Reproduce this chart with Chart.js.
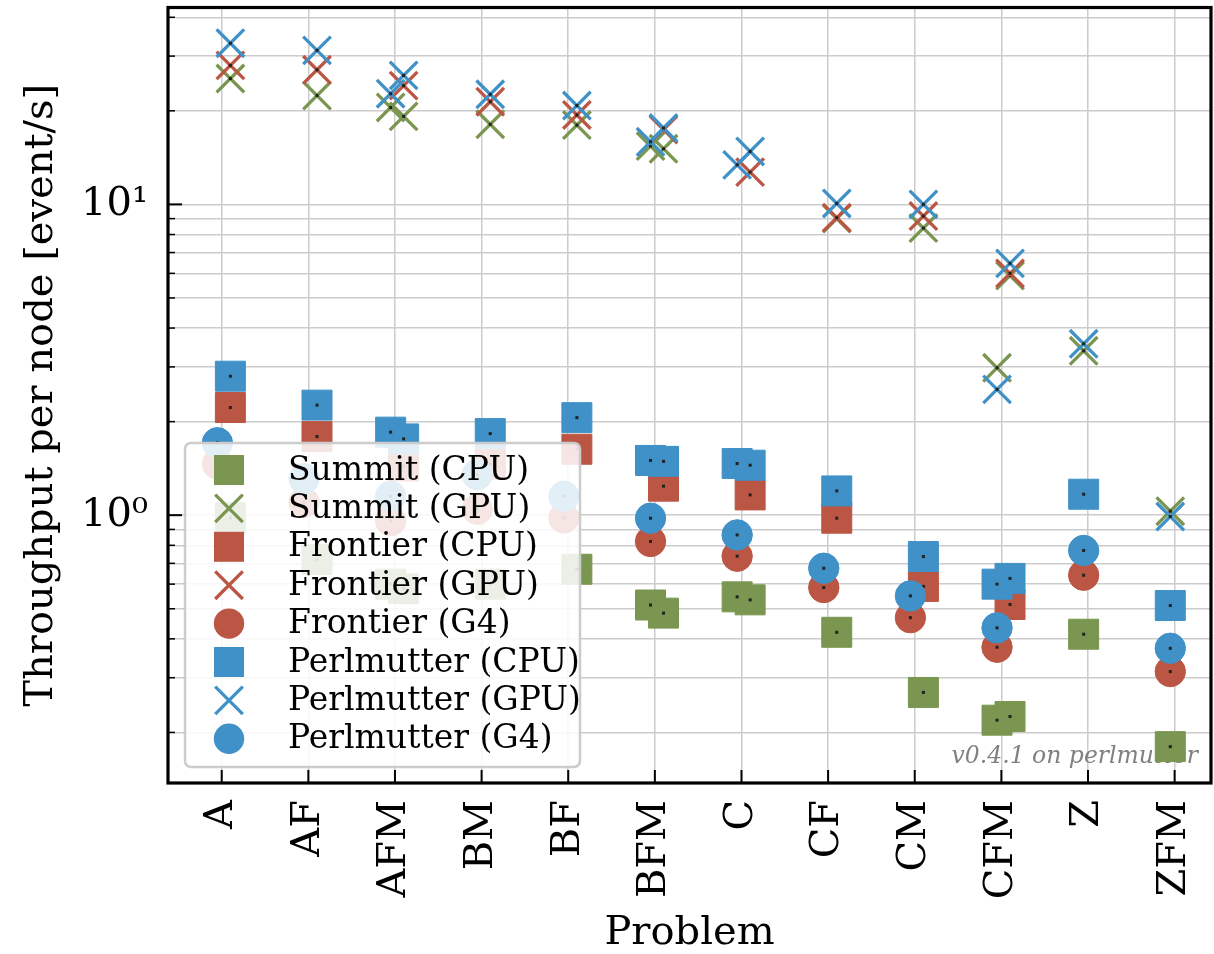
<!DOCTYPE html>
<html><head><meta charset="utf-8">
<script src="https://cdn.jsdelivr.net/npm/chart.js@4.4.0/dist/chart.umd.min.js"></script>
<style>html,body{margin:0;padding:0;background:#fff;}</style>
</head><body>
<canvas id="c" width="1214" height="954" style="width:1214px;height:954px;display:block"></canvas>
<script>
// ---- data ----
const problems = ['A','AF','AFM','BM','BF','BFM','C','CF','CM','CFM','Z','ZFM'];
// each problem can have two runs: left position and right position
const leftOffset = -0.05, rightOffset = 0.1;

const summitCpuL      = [null,null,0.60,null,null,0.514,0.546,null,null,0.219,0.414,0.18];
const summitCpuR      = [0.98,0.72,0.58,0.60,0.67,0.484,0.534,0.42,0.269,0.225,null,null];
const summitGpuL      = [null,null,20.5,null,null,15.4,null,null,null,2.98,3.38,1.03];
const summitGpuR      = [25.4,22.4,19.2,18.1,18.0,15.1,null,9.0,8.39,5.9,null,null];
const frontierCpuR    = [2.22,1.79,1.44,1.46,1.63,1.24,1.162,0.978,0.59,0.516,null,null];
const frontierGpuR    = [28.0,27.1,24.1,21.4,19.4,17.4,12.7,9.06,9.17,6.0,null,null];
const frontierG4L     = [1.46,1.10,0.96,1.045,0.98,0.823,0.738,0.585,0.468,0.376,0.641,0.314];
const perlmutterCpuL  = [null,null,1.85,null,null,1.50,1.466,null,null,0.600,1.168,0.512];
const perlmutterCpuR  = [2.80,2.26,1.76,1.83,2.06,1.49,1.448,1.197,0.736,0.626,null,null];
const perlmutterGpuL  = [null,null,22.7,null,null,15.9,13.4,null,null,2.54,3.56,0.99];
const perlmutterGpuR  = [33.0,31.3,26.0,22.6,20.8,17.6,14.8,10.07,10.0,6.46,null,null];
const perlmutterG4L   = [1.71,1.31,1.15,1.35,1.15,0.978,0.864,0.675,0.55,0.434,0.77,0.373];

const seriesLabels = ['Summit (CPU)','Summit (GPU)','Frontier (CPU)','Frontier (GPU)','Frontier (G4)','Perlmutter (CPU)','Perlmutter (GPU)','Perlmutter (G4)'];

const yMajorTicks = [1, 10];
const yMajorLabels = ['10\u2070', '10\u00b9'];
const yMinorTicks = [0.2,0.3,0.4,0.5,0.6,0.7,0.8,0.9,2,3,4,5,6,7,8,9,20,30,40];
const versionNote = 'v0.4.1 on perlmutter';

// ---- styles ----
const GREEN = '#7a9650', RED = '#bc5644', BLUE = '#3f91c7';
const SERIF = '"DejaVu Serif", "Liberation Serif", serif';

function pts(L, R) {
  const out = [];
  problems.forEach((p, i) => {
    if (L && L[i] != null) out.push({x: i + leftOffset, y: L[i]});
    if (R && R[i] != null) out.push({x: i + rightOffset, y: R[i]});
  });
  return out;
}
const kinds = {
  cpu: {pointStyle: 'rect', pointRadius: 21.2, pointBorderWidth: 1},
  gpu: {pointStyle: 'crossRot', pointRadius: 19.5, pointBorderWidth: 3.3},
  g4:  {pointStyle: 'circle', pointRadius: 15.2, pointBorderWidth: 1}
};
const defs = [
  [summitCpuL, summitCpuR, GREEN, 'cpu'],
  [summitGpuL, summitGpuR, GREEN, 'gpu'],
  [null, frontierCpuR, RED, 'cpu'],
  [null, frontierGpuR, RED, 'gpu'],
  [frontierG4L, null, RED, 'g4'],
  [perlmutterCpuL, perlmutterCpuR, BLUE, 'cpu'],
  [perlmutterGpuL, perlmutterGpuR, BLUE, 'gpu'],
  [perlmutterG4L, null, BLUE, 'g4']
];
const datasets = defs.map((d, k) => Object.assign({
  label: seriesLabels[k],
  data: pts(d[0], d[1]),
  backgroundColor: d[2],
  borderColor: d[2],
  pointBackgroundColor: d[2],
  pointBorderColor: d[2],
  order: defs.length - k,
  kind: d[3]
}, kinds[d[3]]));

// small dark error-bar marks at each point centre
const errMarks = {
  id: 'errMarks',
  afterDatasetDraw(chart, args) {
    const ctx = chart.ctx;
    ctx.save();
    ctx.fillStyle = '#222';
    args.meta.data.forEach(el => { ctx.fillRect(el.x - 1.5, el.y - 1.5, 3, 3); });
    ctx.restore();
  }
};

const noteText = {
  id: 'noteText',
  beforeDatasetsDraw(chart) {
    const {ctx, chartArea} = chart;
    ctx.save();
    ctx.font = 'italic 23.5px ' + SERIF;
    ctx.fillStyle = '#808080';
    ctx.textAlign = 'right';
    ctx.textBaseline = 'alphabetic';
    ctx.fillText(versionNote, chartArea.right - 13, chartArea.bottom - 20);
    ctx.restore();
  }
};

function drawMarker(ctx, kind, color, x, y) {
  ctx.fillStyle = color; ctx.strokeStyle = color;
  if (kind === 'cpu') {
    ctx.fillRect(x - 15, y - 15, 30, 30);
  } else if (kind === 'g4') {
    ctx.beginPath(); ctx.arc(x, y, 15.2, 0, Math.PI * 2); ctx.fill();
  } else {
    const r = 13.8;
    ctx.lineWidth = 3.3;
    ctx.beginPath();
    ctx.moveTo(x - r, y - r); ctx.lineTo(x + r, y + r);
    ctx.moveTo(x - r, y + r); ctx.lineTo(x + r, y - r);
    ctx.stroke();
  }
}

const mplLegend = {
  id: 'mplLegend',
  afterDatasetsDraw(chart) {
    const {ctx, chartArea} = chart;
    const w = 395, h = 324;
    const x0 = chartArea.left + 17, y0 = chartArea.bottom - 16 - h;
    const rad = 6;
    ctx.save();
    ctx.beginPath();
    ctx.moveTo(x0 + rad, y0);
    ctx.arcTo(x0 + w, y0, x0 + w, y0 + h, rad);
    ctx.arcTo(x0 + w, y0 + h, x0, y0 + h, rad);
    ctx.arcTo(x0, y0 + h, x0, y0, rad);
    ctx.arcTo(x0, y0, x0 + w, y0, rad);
    ctx.closePath();
    ctx.fillStyle = 'rgba(255,255,255,0.85)';
    ctx.fill();
    ctx.strokeStyle = '#cccccc';
    ctx.lineWidth = 2.5;
    ctx.stroke();
    ctx.font = '33px ' + SERIF;
    ctx.textBaseline = 'middle';
    ctx.textAlign = 'left';
    datasets.forEach((ds, k) => {
      const ry = y0 + 27 + k * 38.4;
      drawMarker(ctx, ds.kind, ds.backgroundColor, x0 + 44, ry);
      ctx.fillStyle = '#000';
      ctx.fillText(ds.label, x0 + 103, ry + 1);
    });
    ctx.restore();
  }
};

const frame = {
  id: 'frame',
  afterDraw(chart) {
    const {ctx, chartArea} = chart;
    const xs = chart.scales.x, ys = chart.scales.y;
    ctx.save();
    ctx.strokeStyle = '#000';
    ys.ticks.forEach(t => {
      const py = ys.getPixelForValue(t.value);
      const len = t.major ? 14 : 7;
      ctx.lineWidth = t.major ? 2 : 1.5;
      ctx.beginPath(); ctx.moveTo(chartArea.left, py); ctx.lineTo(chartArea.left + len, py); ctx.stroke();
    });
    xs.ticks.forEach(t => {
      const px = xs.getPixelForValue(t.value);
      ctx.lineWidth = 2;
      ctx.beginPath(); ctx.moveTo(px, chartArea.bottom); ctx.lineTo(px, chartArea.bottom - 13); ctx.stroke();
    });
    ctx.lineWidth = 3.2;
    ctx.strokeRect(chartArea.left, chartArea.top, chartArea.right - chartArea.left, chartArea.bottom - chartArea.top);
    ctx.restore();
  }
};

function zeroPad(s) { s.paddingTop = 0; s.paddingBottom = 0; s.paddingLeft = 0; s.paddingRight = 0; }

Chart.defaults.font.family = SERIF;
Chart.defaults.color = '#000';

new Chart(document.getElementById('c'), {
  type: 'scatter',
  data: {datasets},
  options: {
    responsive: false,
    animation: false,
    devicePixelRatio: 1,
    layout: {autoPadding: false, padding: {top: 7.5, right: 3, left: 0, bottom: 0}},
    plugins: {legend: {display: false}, tooltip: {enabled: false}},
    scales: {
      x: {
        type: 'linear',
        min: -0.62, max: 11.42,
        afterBuildTicks: s => { s.ticks = problems.map((p, i) => ({value: i})); },
        afterFit: s => { s.height = 171; zeroPad(s); },
        ticks: {
          callback: v => problems[v] !== undefined ? problems[v] : '',
          font: {family: SERIF, size: 40},
          color: '#000', maxRotation: 90, minRotation: 90, padding: 17, autoSkip: false
        },
        grid: {color: '#cccccc', lineWidth: 1.5, drawTicks: false},
        border: {display: false},
        title: {display: true, text: 'Problem', color: '#000',
                font: {family: SERIF, size: 40, lineHeight: 1}, padding: {top: 0, bottom: 0}}
      },
      y: {
        type: 'logarithmic',
        min: 0.1375, max: 43.0,
        afterBuildTicks: s => {
          const all = yMinorTicks.concat(yMajorTicks).sort((a, b) => a - b);
          s.ticks = all.map(v => ({value: v, major: yMajorTicks.includes(v)}));
        },
        afterFit: s => { s.width = 168; zeroPad(s); },
        ticks: {
          callback: v => { const i = yMajorTicks.indexOf(v); return i >= 0 ? yMajorLabels[i] : ''; },
          font: {family: SERIF, size: 40},
          color: '#000', padding: 20, autoSkip: false
        },
        grid: {color: '#cccccc', lineWidth: 1.5, drawTicks: false},
        border: {display: false},
        title: {display: true, text: 'Throughput per node [event/s]', color: '#000',
                font: {family: SERIF, size: 40, lineHeight: 1}, padding: {top: 22, bottom: 0}}
      }
    }
  },
  plugins: [errMarks, noteText, mplLegend, frame]
});
</script>
</body></html>
